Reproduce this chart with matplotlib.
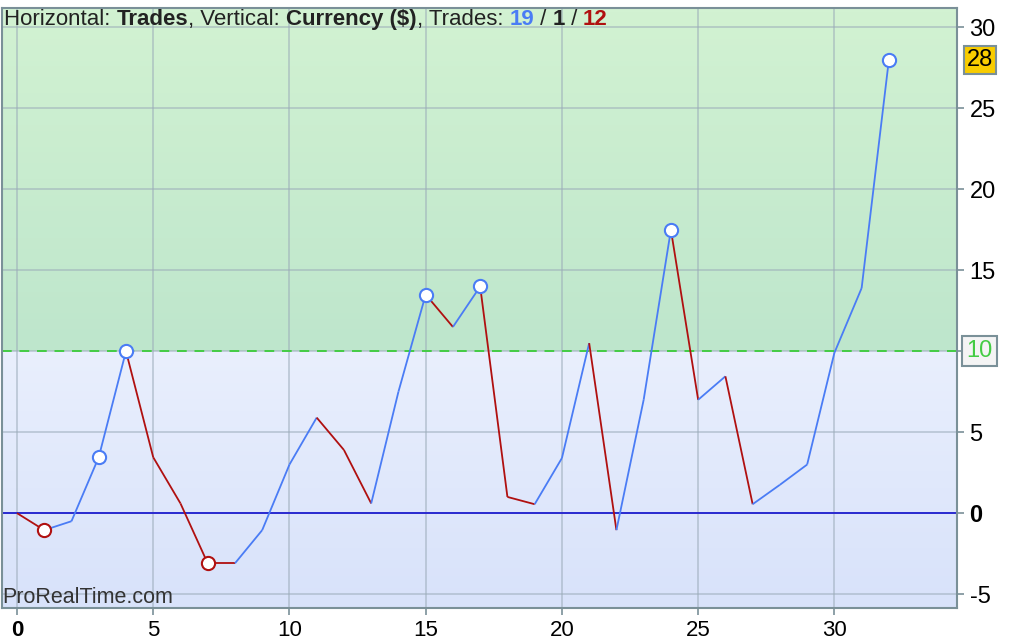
import numpy as np
import matplotlib.pyplot as plt
from matplotlib.collections import LineCollection

plt.rcParams['font.family'] = ['Liberation Sans', 'DejaVu Sans']

# equity curve, one point per trade
trades = np.arange(33)
equity = [0, -1.05, -0.5, 3.45, 10, 3.45, 0.6, -3.1, -3.1, -1.05,
          3.0, 5.9, 3.9, 0.6, 7.5, 13.5, 11.5, 14.0, 1.0, 0.55,
          3.4, 10.5, -1.05, 7.0, 17.5, 7.0, 8.45, 0.55, 1.75, 3.0,
          9.9, 13.9, 28.0]
high_marks = [3, 4, 15, 17, 24, 32]
low_marks = [1, 7]
target = 10
last_value = 28
x_ticks = [0, 5, 10, 15, 20, 25, 30]
y_ticks = [-5, 0, 5, 10, 15, 20, 25, 30]

BLUE = '#4a7cf5'
RED = '#b01010'

fig = plt.figure(figsize=(10.26, 6.44), dpi=100)
ax = fig.add_axes([2 / 1026, 1 - 608 / 644, 955 / 1026, 600 / 644])
xlim = (-0.55, 34.5)
ylim = (-5.86, 31.2)

# gradient backgrounds
g = np.linspace(0, 1, 64).reshape(-1, 1)
green_top = np.array([210, 242, 210]) / 255
green_bot = np.array([190, 230, 204]) / 255
blue_top = np.array([233, 239, 253]) / 255
blue_bot = np.array([216, 226, 250]) / 255
img_g = (green_top * (1 - g) + green_bot * g)[:, None, :]
img_b = (blue_top * (1 - g) + blue_bot * g)[:, None, :]
ax.imshow(img_g, extent=(xlim[0], xlim[1], target, ylim[1]), aspect='auto', zorder=0)
ax.imshow(img_b, extent=(xlim[0], xlim[1], ylim[0], target), aspect='auto', zorder=0)
ax.set_xlim(*xlim)
ax.set_ylim(*ylim)

ax.set_xticks(x_ticks)
ax.set_yticks(y_ticks)
ax.grid(True, color='#9aaab8', alpha=0.55, lw=1.3, zorder=1)
ax.set_axisbelow(True)

ax.axhline(0, color='#2a2ad0', lw=1.4, zorder=2)
ax.axhline(target, color='#44cc44', lw=1.4, ls=(0, (5, 4)), zorder=2)

# segments coloured by direction
eq = np.array(equity)
pts = np.column_stack([trades, eq])
segs = np.stack([pts[:-1], pts[1:]], axis=1)
colors = [BLUE if d > 0 else RED for d in np.diff(eq)]
ax.add_collection(LineCollection(segs, colors=colors, linewidths=1.3, zorder=3))

ax.plot(trades[high_marks], eq[high_marks], 'o', ms=9.5, mfc='white', mec=BLUE,
        mew=1.5, ls='none', zorder=4)
ax.plot(trades[low_marks], eq[low_marks], 'o', ms=9.5, mfc='white', mec=RED,
        mew=1.5, ls='none', zorder=4)

for s in ax.spines.values():
    s.set_color('#7a9098')
    s.set_linewidth(1.5)

ax.yaxis.tick_right()
ax.tick_params(axis='both', colors='#7a9098', length=5, width=1.2,
               labelcolor='black', pad=4)
ax.tick_params(axis='y', labelsize=17)
ax.tick_params(axis='x', labelsize=16)
ax.set_xticklabels([str(t) for t in x_ticks])
ylabels = []
for t in y_ticks:
    ylabels.append('' if t == target else str(t))
ax.set_yticklabels(ylabels)
for lab in ax.get_xticklabels() + ax.get_yticklabels():
    if lab.get_text() == '0':
        lab.set_fontweight('bold')

# value boxes on the right scale
ax.text(1.01, target, str(target), transform=ax.get_yaxis_transform(), va='center',
        ha='left', fontsize=17, color='#44cc44',
        bbox=dict(boxstyle='square,pad=0.18', fc='#f4f4f4', ec='#7a9098', lw=1.5))
ax.text(1.01, last_value, str(last_value), transform=ax.get_yaxis_transform(),
        va='center', ha='left', fontsize=17, color='black',
        bbox=dict(boxstyle='square,pad=0.12', fc='#f8cc00', ec='#7a9098', lw=1.5))

# title inside the plot, built from pieces
pieces = [('Horizontal: ', 'normal', '#222222'), ('Trades', 'bold', '#222222'),
          (', Vertical: ', 'normal', '#222222'), ('Currency ($)', 'bold', '#222222'),
          (', Trades: ', 'normal', '#222222'), ('19', 'bold', BLUE),
          (' / ', 'normal', '#222222'), ('1', 'bold', '#222222'),
          (' / ', 'normal', '#222222'), ('12', 'bold', RED)]
prev = ax.text(0.002, 0.998, pieces[0][0], transform=ax.transAxes, ha='left', va='top',
               fontsize=16, fontweight=pieces[0][1], color=pieces[0][2], zorder=5)
for txt, w, c in pieces[1:]:
    prev = ax.annotate(txt, xy=(1, 0), xycoords=prev, ha='left', va='bottom',
                       fontsize=16, fontweight=w, color=c, zorder=5)

ax.text(0.0, 0.0, 'ProRealTime.com', transform=ax.transAxes, ha='left', va='bottom',
        fontsize=15.5, color='#333333', zorder=5)

fig.savefig('out.png', dpi=100)
